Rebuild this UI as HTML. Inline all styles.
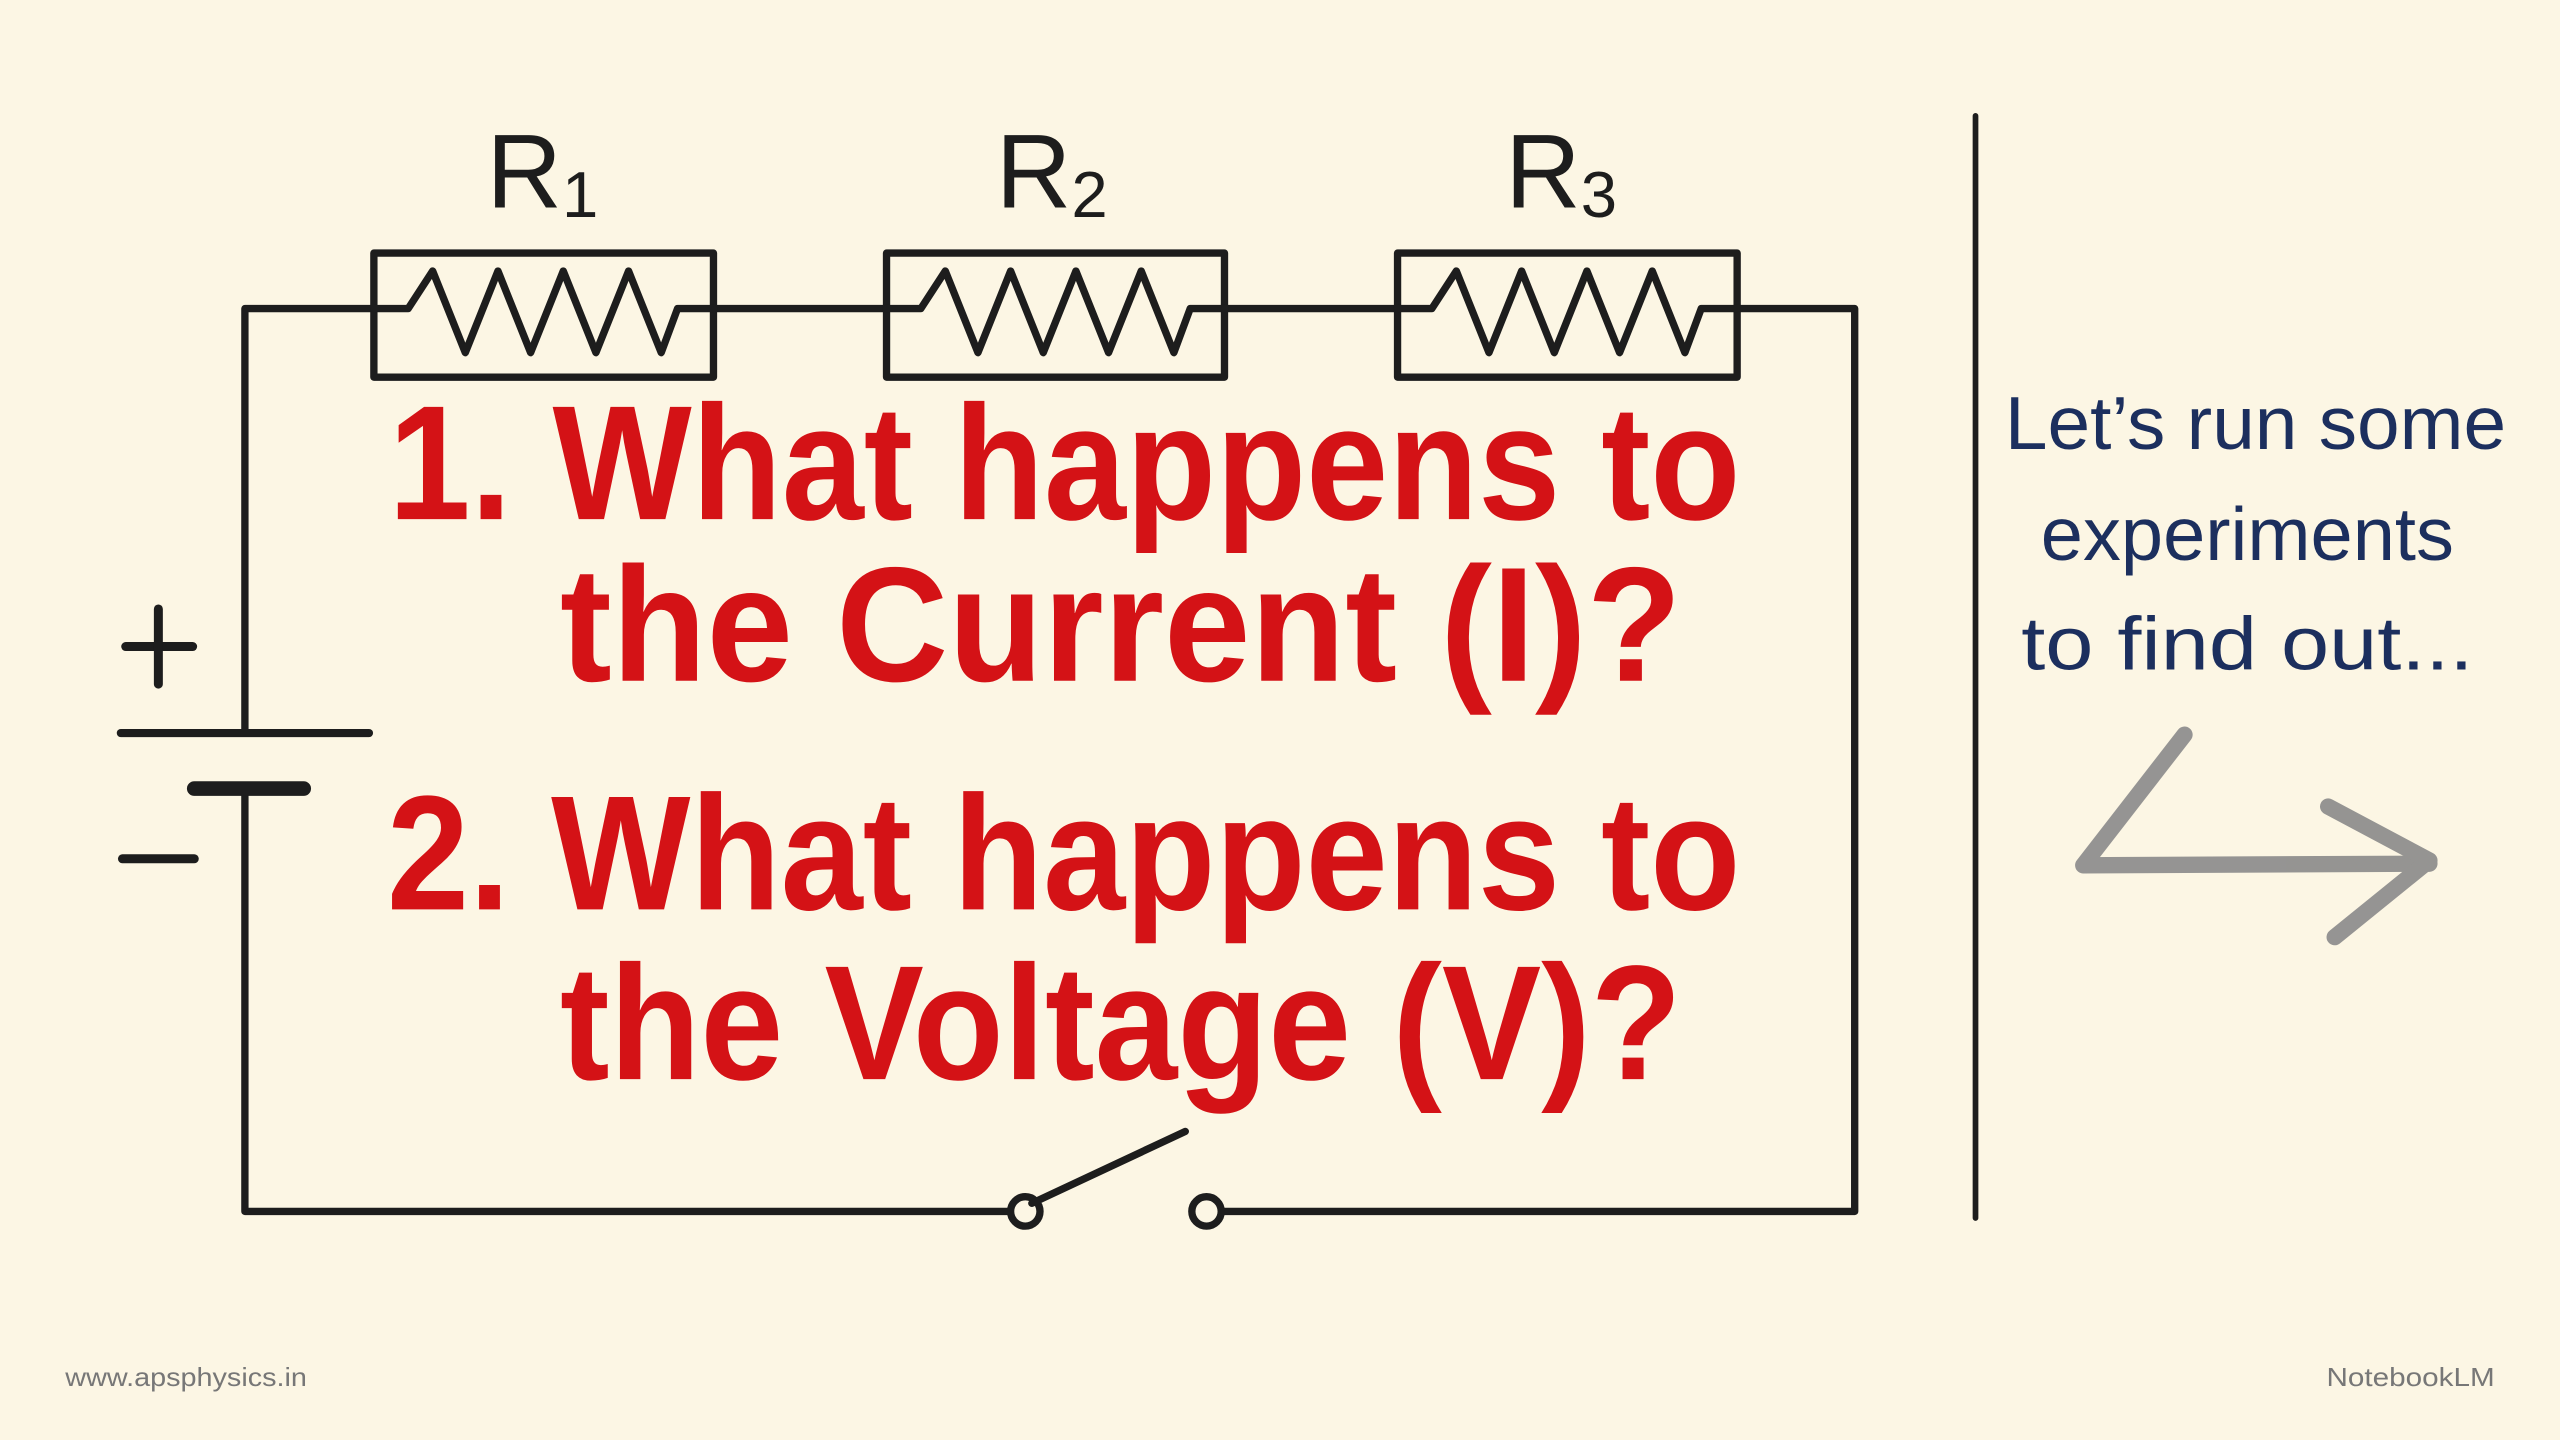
<!DOCTYPE html>
<html><head><meta charset="utf-8"><style>
html,body{margin:0;padding:0;background:#fcf6e4;}
svg{display:block}
</style></head><body>
<svg width="2560" height="1440" viewBox="0 0 1568 882" xmlns="http://www.w3.org/2000/svg">
<rect width="1568" height="882" fill="#fcf6e4"/>
<g fill="none" stroke="#1d1d1d" stroke-width="4.5" stroke-linecap="round" stroke-linejoin="round">
  <polyline points="150,449 150,189 229,189"/>
  <line x1="437" y1="189" x2="543" y2="189"/>
  <line x1="750" y1="189" x2="856" y2="189"/>
  <polyline points="1064,189 1136,189 1136,742 750,742"/>
  <polyline points="618,742 150,742 150,484"/>
  <rect x="229" y="155" width="208" height="76"/>
  <rect x="543" y="155" width="207" height="76"/>
  <rect x="856" y="155" width="208" height="76"/>
  <polyline points="229,189 250,189 265,166 285,216 305,166 325,216 345,166 365,216 385,166 405,216 415,189 437,189"/>
  <polyline points="543,189 564,189 579,166 599,216 619,166 639,216 659,166 679,216 699,166 719,216 729,189 750,189"/>
  <polyline points="856,189 877,189 892,166 912,216 932,166 952,216 972,166 992,216 1012,166 1032,216 1042,189 1064,189"/>
  <line x1="74" y1="449" x2="226" y2="449" stroke-width="5"/>
  <line x1="119" y1="483" x2="186" y2="483" stroke-width="9"/>
  <line x1="77" y1="396" x2="118" y2="396" stroke-width="5.5"/>
  <line x1="97" y1="373" x2="97" y2="419" stroke-width="5.5"/>
  <line x1="75" y1="526" x2="119" y2="526" stroke-width="5.5"/>
  <circle cx="628" cy="742" r="9"/>
  <circle cx="739" cy="742" r="9"/>
  <line x1="632" y1="737" x2="726" y2="693"/>
  <line x1="1210" y1="71" x2="1210" y2="746" stroke-width="3.5"/>
</g>
<g fill="none" stroke="#8a8a8a" stroke-width="10" stroke-linecap="round" stroke-linejoin="round" opacity="0.9">
  <polyline points="1338,450 1276,530 1488,529"/>
  <polyline points="1426,494 1488,527 1430,574"/>
</g>
<g font-family="Liberation Sans, sans-serif" fill="#1d1d1d">
  <text x="298" y="127" font-size="64">R<tspan font-size="40" dy="6">1</tspan></text>
  <text x="610" y="127" font-size="64">R<tspan font-size="40" dy="6">2</tspan></text>
  <text x="922" y="127" font-size="64">R<tspan font-size="40" dy="6">3</tspan></text>
</g>
<g font-family="Liberation Sans, sans-serif" font-weight="bold" fill="#d41216" font-size="100">
  <text x="238" y="318" textLength="828" lengthAdjust="spacingAndGlyphs">1. What happens to</text>
  <text x="343" y="417" textLength="687" lengthAdjust="spacingAndGlyphs">the Current (I)?</text>
  <text x="237" y="557" textLength="829" lengthAdjust="spacingAndGlyphs">2. What happens to</text>
  <text x="343" y="661" textLength="687" lengthAdjust="spacingAndGlyphs">the Voltage (V)?</text>
</g>
<g font-family="Liberation Sans, sans-serif" fill="#1c2f5e" font-size="46">
  <text x="1228" y="275" textLength="307" lengthAdjust="spacingAndGlyphs">Let’s run some</text>
  <text x="1250" y="343" textLength="253" lengthAdjust="spacingAndGlyphs">experiments</text>
  <text x="1238" y="410" textLength="277" lengthAdjust="spacingAndGlyphs">to find out...</text>
</g>
<g font-family="Liberation Sans, sans-serif" fill="#777" font-size="16">
  <text x="40" y="849" textLength="148" lengthAdjust="spacingAndGlyphs">www.apsphysics.in</text>
  <text x="1425" y="849" textLength="103" lengthAdjust="spacingAndGlyphs">NotebookLM</text>
</g>
</svg>
</body></html>
